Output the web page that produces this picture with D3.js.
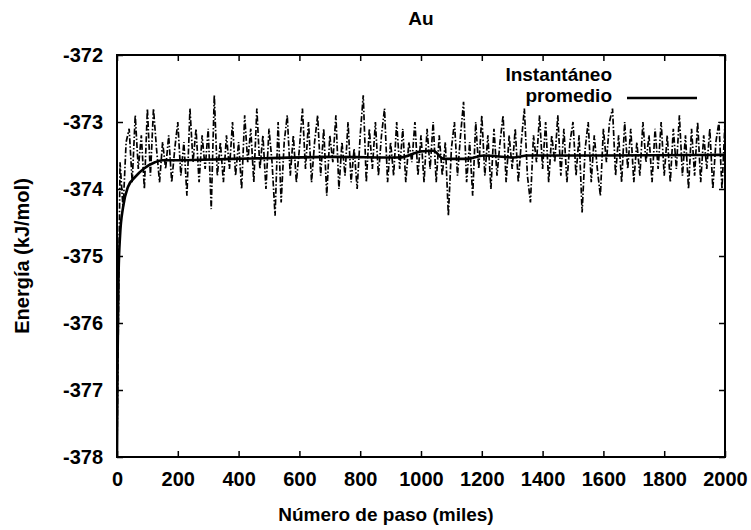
<!DOCTYPE html>
<html lang="es">
<head>
  <meta charset="UTF-8" />
  <title>Au - Energia</title>
  <script src="https://d3js.org/d3.v7.min.js"></script>
  <style>
    body {
      margin: 0;
      background: #fff;
      font-family: "Liberation Sans", Arial, sans-serif;
    }
    text {
      fill: #000;
      font-weight: bold;
    }
    .frame {
      fill: none;
      stroke: #000;
      stroke-width: 2px;
    }
    .inst {
      fill: none;
      stroke: #000;
      stroke-width: 1.7px;
      stroke-dasharray: 6, 2, 1.5, 2;
    }
    .avg {
      fill: none;
      stroke: #000;
      stroke-width: 2.6px;
    }
  </style>
</head>
<body>
<svg width="751" height="530"></svg>

<script>
// tick labels
const xTicks = [0, 200, 400, 600, 800, 1000, 1200, 1400, 1600, 1800, 2000];
const yTicks = [-378, -377, -376, -375, -374, -373, -372];

// instantaneous energy, one value every 10 (miles de pasos), 0..2000
const instSteps = d3.range(0, 2001, 10);
const instValues = [
  -377.9, -373.6, -374.3, -373.3, -373.1, -373.9, -372.9, -373.7, -373.2, -374.0,
  -372.8, -373.8, -372.8, -373.4, -373.9, -373.3, -373.7, -373.2, -373.9, -373.4,
  -373.0, -373.8, -373.3, -374.1, -372.8, -373.6, -373.1, -373.9, -373.2, -373.7,
  -373.1, -374.3, -372.6, -373.8, -373.3, -373.9, -373.2, -373.7, -373.0, -373.8,
  -373.3, -374.0, -372.9, -373.6, -373.1, -373.9, -372.8, -373.7, -373.2, -374.0,
  -373.1, -373.6, -374.4, -373.0, -374.2, -373.3, -372.9, -373.8, -373.2, -373.9,
  -373.4, -372.8, -373.7, -373.0, -373.9, -373.3, -372.9, -373.8, -373.1, -374.1,
  -373.2, -373.6, -372.9, -374.0, -373.3, -373.8, -373.0, -373.9, -373.4, -374.0,
  -373.2, -372.6, -373.9, -373.1, -373.7, -373.0, -373.8, -373.2, -372.8, -373.9,
  -373.3, -373.8, -373.0, -373.7, -373.1, -373.9, -373.3, -373.6, -373.0, -373.8,
  -373.2, -373.9, -373.1, -373.7, -373.0, -373.9, -373.2, -373.8, -373.3, -374.4,
  -373.4, -373.0, -373.8, -373.2, -372.7, -373.9, -373.3, -374.1, -373.0, -373.7,
  -372.9, -373.8, -373.2, -374.0, -373.1, -373.8, -373.3, -372.9, -373.9, -373.2,
  -373.7, -373.1, -373.9, -373.3, -372.8, -373.8, -374.2, -373.2, -373.6, -372.9,
  -373.7, -373.0, -373.9, -373.2, -373.6, -372.9, -373.8, -373.1, -373.9, -373.3,
  -373.0, -373.8, -373.2, -374.35, -373.4, -373.0, -373.9, -373.2, -373.7, -374.1,
  -373.1, -373.6, -373.0, -372.8, -373.8, -373.2, -373.9, -373.0, -373.7, -373.1,
  -373.9, -373.3, -373.8, -373.0, -373.6, -373.2, -373.9, -373.1, -373.7, -373.0,
  -373.8, -373.2, -373.9, -373.1, -373.7, -372.9, -373.8, -373.2, -374.0, -373.1,
  -373.8, -373.0, -373.9, -373.2, -373.7, -373.1, -374.0, -373.3, -373.0, -374.0,
  -373.0
];

// running average ("promedio")
const avgSteps = [0, 2, 5, 10, 20, 36, 60, 90, 125, 150, 200, 380, 490, 710, 930, 1000, 1040, 1075, 1150, 1206, 1305, 1350, 1600, 2000];
const avgValues = [-378.0, -376.5, -375.3, -374.7, -374.27, -373.97, -373.82, -373.69, -373.6, -373.57, -373.57, -373.55, -373.54, -373.52, -373.53, -373.44, -373.43, -373.55, -373.55, -373.5, -373.53, -373.5, -373.5, -373.49];

const margin = { left: 117, right: 26, top: 55, bottom: 73 };
const width = 751, height = 530;

const svg = d3.select("svg");

const x = d3.scaleLinear().domain([0, 2000]).range([margin.left, width - margin.right]);
const y = d3.scaleLinear().domain([-378, -372]).range([height - margin.bottom, margin.top]);

const g = svg.append("g");

// data lines
const clipId = "plot-clip";
svg.append("clipPath").attr("id", clipId)
  .append("rect")
  .attr("x", x(0)).attr("y", y(-372))
  .attr("width", x(2000) - x(0)).attr("height", y(-378) - y(-372));

const line = d3.line().x(d => x(d[0])).y(d => y(d[1]));

g.append("path")
  .attr("class", "inst")
  .attr("clip-path", `url(#${clipId})`)
  .attr("d", line(instSteps.map((s, i) => [s, instValues[i]])));

g.append("path")
  .attr("class", "avg")
  .attr("clip-path", `url(#${clipId})`)
  .attr("d", d3.line().curve(d3.curveMonotoneX).x(d => x(d[0])).y(d => y(d[1]))(avgSteps.map((s, i) => [s, avgValues[i]])));

// axes, ticks inward on all four sides (gnuplot mirror)
const tickLen = 6;
const fmt = d => String(d);
const bottomAxis = d3.axisBottom(x).tickValues(xTicks).tickFormat(fmt).tickSizeInner(-tickLen).tickSizeOuter(0).tickPadding(15);
const leftAxis = d3.axisLeft(y).tickValues(yTicks).tickFormat(fmt).tickSizeInner(-tickLen).tickSizeOuter(0).tickPadding(14);
const topAxis = d3.axisTop(x).tickValues(xTicks).tickSizeInner(-tickLen).tickSizeOuter(0).tickFormat("");
const rightAxis = d3.axisRight(y).tickValues(yTicks).tickSizeInner(-tickLen).tickSizeOuter(0).tickFormat("");

[
  [bottomAxis, `translate(0,${y(-378)})`],
  [leftAxis, `translate(${x(0)},0)`],
  [topAxis, `translate(0,${y(-372)})`],
  [rightAxis, `translate(${x(2000)},0)`]
].forEach(([axis, tr]) => {
  const a = g.append("g").attr("transform", tr).call(axis);
  a.select(".domain").remove();
  a.selectAll("line").attr("stroke", "#000").attr("stroke-width", 1.5);
  a.selectAll("text")
    .style("font-family", "'Liberation Sans', Arial, sans-serif")
    .style("font-size", "20px")
    .style("font-weight", "bold")
    .attr("fill", "#000");
});

g.append("rect")
  .attr("class", "frame")
  .attr("x", x(0)).attr("y", y(-372))
  .attr("width", x(2000) - x(0)).attr("height", y(-378) - y(-372));

// titles
svg.append("text")
  .attr("x", 421).attr("y", 25)
  .attr("text-anchor", "middle")
  .style("font-size", "19px")
  .text("Au");

svg.append("text")
  .attr("x", 386).attr("y", 521)
  .attr("text-anchor", "middle")
  .style("font-size", "19px")
  .text("Número de paso (miles)");

svg.append("text")
  .attr("transform", `translate(29,${(y(-372) + y(-378)) / 2}) rotate(-90)`)
  .attr("text-anchor", "middle")
  .style("font-size", "20px")
  .text("Energía (kJ/mol)");

// legend
const legend = svg.append("g");
legend.append("text")
  .attr("x", 612).attr("y", 81)
  .attr("text-anchor", "end")
  .style("font-size", "19px")
  .text("Instantáneo");
legend.append("text")
  .attr("x", 612).attr("y", 102)
  .attr("text-anchor", "end")
  .style("font-size", "19px")
  .text("promedio");
legend.append("line")
  .attr("x1", 627).attr("x2", 697)
  .attr("y1", 98).attr("y2", 98)
  .attr("stroke", "#000").attr("stroke-width", 2.4);
</script>
</body>
</html>
